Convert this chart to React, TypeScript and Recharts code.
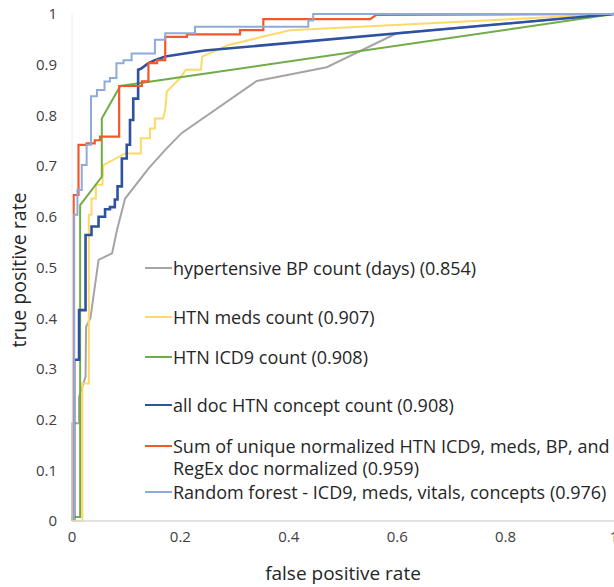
import { Legend, Line, LineChart, XAxis, YAxis } from "recharts";

type Pair = [number, number];

const X_TICKS = [0, 0.2, 0.4, 0.6, 0.8, 1];
const Y_TICKS = [0, 0.1, 0.2, 0.3, 0.4, 0.5, 0.6, 0.7, 0.8, 0.9, 1];

// ROC points as [false positive rate, true positive rate]
const bpCount: Pair[] = [
  [0, 0], [0, 0.193], [0.013, 0.193], [0.013, 0.245], [0.025, 0.285], [0.026, 0.383],
  [0.034, 0.4], [0.049, 0.515], [0.074, 0.528], [0.083, 0.574], [0.098, 0.636],
  [0.141, 0.695], [0.172, 0.732], [0.202, 0.765], [0.341, 0.868], [0.47, 0.895],
  [0.599, 0.962], [1, 1],
];

const medsCount: Pair[] = [
  [0, 0], [0.019, 0], [0.019, 0.271], [0.031, 0.271], [0.031, 0.604], [0.036, 0.604],
  [0.036, 0.636], [0.044, 0.636], [0.044, 0.663], [0.056, 0.663], [0.058, 0.702],
  [0.098, 0.725], [0.127, 0.725], [0.127, 0.755], [0.144, 0.755], [0.144, 0.774],
  [0.153, 0.774], [0.153, 0.794], [0.168, 0.794], [0.172, 0.811], [0.175, 0.847],
  [0.199, 0.873], [0.21, 0.89], [0.238, 0.89], [0.24, 0.916], [0.289, 0.939],
  [0.402, 0.968], [1, 1],
];

const icd9Count: Pair[] = [
  [0, 0], [0, 0.008], [0.015, 0.008], [0.015, 0.623], [0.055, 0.679], [0.055, 0.794],
  [0.089, 0.858], [1, 1],
];

const conceptCount: Pair[] = [
  [0.004, 0], [0.004, 0.318], [0.013, 0.318], [0.013, 0.416], [0.025, 0.416], [0.025, 0.564],
  [0.036, 0.564], [0.036, 0.581], [0.049, 0.581], [0.049, 0.6], [0.061, 0.6], [0.061, 0.615],
  [0.07, 0.615], [0.07, 0.619], [0.079, 0.619], [0.079, 0.634], [0.084, 0.634], [0.084, 0.66],
  [0.092, 0.66], [0.092, 0.715], [0.101, 0.715], [0.101, 0.742], [0.107, 0.742], [0.107, 0.791],
  [0.113, 0.791], [0.113, 0.833], [0.122, 0.833], [0.122, 0.89], [0.127, 0.892], [0.141, 0.903],
  [0.153, 0.909], [0.172, 0.916], [0.208, 0.922], [0.245, 0.928], [1, 1],
];

const sumNormalized: Pair[] = [
  [0.003, 0], [0.003, 0.643], [0.012, 0.643], [0.012, 0.742], [0.027, 0.742], [0.027, 0.745],
  [0.042, 0.745], [0.042, 0.751], [0.052, 0.751], [0.052, 0.758], [0.087, 0.758], [0.087, 0.858],
  [0.129, 0.858], [0.129, 0.867], [0.141, 0.867], [0.141, 0.903], [0.157, 0.903], [0.157, 0.909],
  [0.172, 0.909], [0.172, 0.955], [0.212, 0.955], [0.212, 0.96], [0.31, 0.96], [0.31, 0.968],
  [0.353, 0.968], [0.353, 0.99], [0.55, 0.99], [0.561, 0.998], [1, 1],
];

const randomForest: Pair[] = [
  [0.004, 0], [0.004, 0.604], [0.01, 0.604], [0.01, 0.653], [0.018, 0.653], [0.018, 0.702],
  [0.027, 0.702], [0.027, 0.742], [0.035, 0.742], [0.035, 0.838], [0.046, 0.838], [0.046, 0.85],
  [0.06, 0.85], [0.06, 0.867], [0.07, 0.867], [0.07, 0.874], [0.082, 0.874], [0.082, 0.903],
  [0.095, 0.903], [0.095, 0.909], [0.11, 0.909], [0.11, 0.922], [0.153, 0.922], [0.153, 0.949],
  [0.172, 0.949], [0.172, 0.962], [0.227, 0.962], [0.227, 0.975], [0.436, 0.975], [0.436, 0.987],
  [0.445, 0.987], [0.445, 1], [1, 1],
];

const SERIES = [
  { name: "hypertensive BP count (days) (0.854)", points: bpCount, color: "#a5a5a5", width: 2 },
  { name: "HTN meds count (0.907)", points: medsCount, color: "#ffd966", width: 2 },
  { name: "HTN ICD9 count (0.908)", points: icd9Count, color: "#70ad47", width: 2 },
  { name: "all doc HTN concept count (0.908)", points: conceptCount, color: "#2f52a0", width: 2.6 },
  {
    name: "Sum of unique normalized HTN ICD9, meds, BP, and\nRegEx doc normalized (0.959)",
    points: sumNormalized,
    color: "#f4582a",
    width: 2.2,
  },
  { name: "Random forest - ICD9, meds, vitals, concepts (0.976)", points: randomForest, color: "#8eaadb", width: 2 },
];

// vertical centre of each legend row on the page
const LEGEND_ROW_Y = [268, 317, 357, 405, 446, 492];

function RocLegend() {
  return (
    <div style={{ position: "relative", width: 470, height: 520 }}>
      {SERIES.map((s, i) => (
        <div
          key={s.name}
          style={{
            position: "absolute",
            left: 0,
            top: LEGEND_ROW_Y[i] - 11,
            display: "flex",
            alignItems: "flex-start",
          }}
        >
          <span
            style={{
              display: "inline-block",
              width: 27,
              marginTop: 10,
              marginRight: 1,
              borderTop: `2px solid ${s.color}`,
            }}
          />
          <span style={{ whiteSpace: "pre", lineHeight: "22px", fontSize: 18, color: "#262626" }}>
            {s.name}
          </span>
        </div>
      ))}
    </div>
  );
}

export default function App() {
  return (
    <div
      style={{
        position: "absolute",
        left: 0,
        top: 0,
        width: 614,
        height: 587,
        overflow: "hidden",
        background: "#fff",
        fontFamily: '"Open Sans", sans-serif',
      }}
    >
      <LineChart width={630} height={587} margin={{ top: 14, right: 16, bottom: 26, left: 0 }}>
        <XAxis
          type="number"
          dataKey="x"
          domain={[0, 1]}
          ticks={X_TICKS}
          interval={0}
          tickLine={false}
          tickSize={0}
          tickMargin={10}
          height={40}
          axisLine={{ stroke: "#d9d9d9", strokeWidth: 1.5 }}
          tick={{ fill: "#404040", fontSize: 15 }}
          label={{ value: "false positive rate", position: "bottom", offset: 6, fill: "#262626", fontSize: 19 }}
        />
        <YAxis
          type="number"
          domain={[0, 1]}
          ticks={Y_TICKS}
          interval={0}
          width={72}
          tickLine={false}
          tickSize={0}
          tickMargin={15}
          axisLine={{ stroke: "#ececec" }}
          tick={{ fill: "#404040", fontSize: 15 }}
          label={{
            content: () => (
              <text
                x={18}
                y={270}
                transform="rotate(-90 18 270)"
                textAnchor="middle"
                dominantBaseline="central"
                fill="#262626"
                fontSize={19.5}
              >
                true positive rate
              </text>
            ),
          }}
        />
        <Legend
          layout="vertical"
          verticalAlign="middle"
          align="center"
          wrapperStyle={{ left: 145, top: 0, width: 470 }}
          content={() => <RocLegend />}
        />
        {SERIES.map((s) => (
          <Line
            key={s.name}
            name={s.name}
            data={s.points.map(([x, y]) => ({ x, y }))}
            dataKey="y"
            type="linear"
            stroke={s.color}
            strokeWidth={s.width}
            dot={false}
            activeDot={false}
            isAnimationActive={false}
          />
        ))}
      </LineChart>
    </div>
  );
}
